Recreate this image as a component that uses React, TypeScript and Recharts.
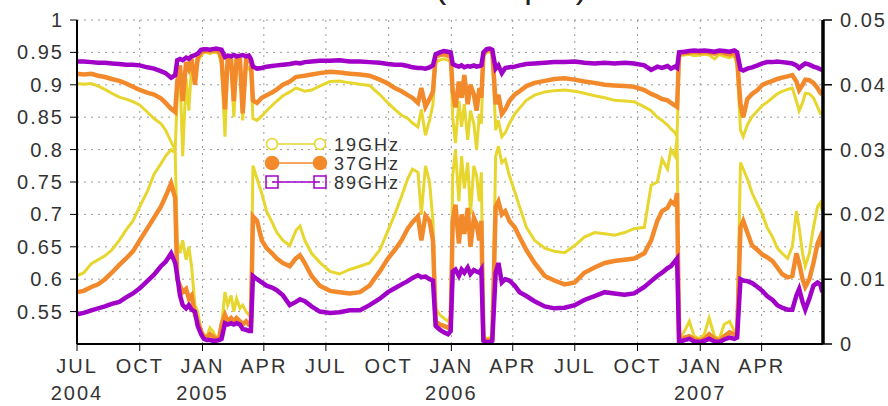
import React from "react";
import { CartesianGrid, Line, LineChart, XAxis, YAxis } from "recharts";

// days counted from 1 Jul 2004
const days = [
  0, 10, 21, 31, 41, 51, 62, 72, 82, 92, 103, 113, 123, 130, 138, 144,
  147, 151, 155, 160, 164, 168, 173, 177, 182, 186, 190, 195, 199, 204, 208, 212, 217, 221, 226, 230, 234, 239, 243, 248, 252, 255,
  258, 264, 271, 278, 286, 293, 302, 312, 321, 327, 334, 344, 356, 371, 385, 400, 415, 429, 444, 456, 466, 476, 485, 492, 500, 505, 511, 517, 522,
  526, 532, 538, 544, 548,
  551, 555, 560, 564, 568, 573, 577, 582, 586, 590, 593,
  596, 601, 605, 609,
  614, 618, 623, 628, 634, 642, 649, 659, 671, 686, 700, 715, 730, 744, 759, 774, 788, 803, 817, 832, 842, 851, 858, 866, 871, 877, 880,
  883, 891, 898, 905, 913, 920, 927, 935, 942, 949, 957, 964, 968, 973,
  977, 983, 990, 998, 1005, 1012, 1020, 1027, 1034, 1042, 1049, 1055, 1059, 1064, 1068, 1074, 1080, 1086, 1090, 1093,
];

const ghz89Upper = [
  0.936, 0.936, 0.935, 0.934, 0.934, 0.933, 0.932, 0.931, 0.931, 0.93, 0.927, 0.925, 0.921, 0.918, 0.911, 0.915,
  0.938, 0.94, 0.938, 0.942, 0.94, 0.944, 0.946, 0.948, 0.954, 0.955, 0.955, 0.954, 0.955, 0.956, 0.955, 0.954, 0.943, 0.945, 0.944, 0.946, 0.944, 0.945, 0.946, 0.944, 0.945, 0.94,
  0.928, 0.925, 0.926, 0.928, 0.929, 0.93, 0.931, 0.932, 0.934, 0.933, 0.935, 0.936, 0.937, 0.937, 0.938, 0.936, 0.936, 0.935, 0.934, 0.932, 0.931, 0.931, 0.929, 0.927, 0.926, 0.926, 0.925, 0.927, 0.93,
  0.947, 0.95, 0.952, 0.951, 0.95,
  0.932, 0.93, 0.928, 0.93, 0.927, 0.929, 0.928, 0.93, 0.928, 0.929, 0.93,
  0.95, 0.955, 0.956, 0.954,
  0.925, 0.93, 0.918, 0.926, 0.927, 0.928, 0.93, 0.932, 0.933, 0.934, 0.935, 0.935, 0.936, 0.934, 0.933, 0.934, 0.933, 0.934, 0.933, 0.93, 0.923, 0.928, 0.926, 0.929, 0.925, 0.928, 0.926,
  0.95, 0.951, 0.952, 0.953, 0.952, 0.953, 0.952, 0.951, 0.953, 0.952, 0.951, 0.953, 0.95, 0.924,
  0.922, 0.925, 0.927, 0.93, 0.933, 0.935, 0.935, 0.936, 0.935, 0.934, 0.933, 0.93, 0.926, 0.93, 0.933, 0.931, 0.928, 0.926, 0.924, 0.923,
];

const ghz37Upper = [
  0.917, 0.916, 0.917, 0.914, 0.912, 0.909, 0.906, 0.902, 0.897, 0.892, 0.888, 0.885, 0.879, 0.872, 0.863, 0.858,
  0.905, 0.93, 0.875, 0.935, 0.925, 0.94, 0.9, 0.942, 0.95, 0.952, 0.953, 0.952, 0.953, 0.953, 0.952, 0.94, 0.862, 0.94, 0.938, 0.875, 0.94, 0.939, 0.856, 0.94, 0.938, 0.935,
  0.876, 0.872, 0.88, 0.884, 0.888, 0.893, 0.9, 0.905, 0.912, 0.913, 0.914, 0.916, 0.918, 0.92, 0.919, 0.917, 0.916, 0.914, 0.908, 0.902, 0.895, 0.89, 0.884, 0.88, 0.872, 0.895, 0.866, 0.878, 0.89,
  0.944, 0.946, 0.947, 0.945, 0.945,
  0.89, 0.865, 0.905, 0.88, 0.915, 0.87, 0.9, 0.885, 0.86, 0.895, 0.88,
  0.948, 0.953, 0.954, 0.952,
  0.87, 0.885, 0.855, 0.862, 0.875, 0.885, 0.89, 0.898, 0.903, 0.906, 0.909, 0.91, 0.908, 0.905, 0.903, 0.9, 0.899, 0.898, 0.897, 0.892, 0.886, 0.882, 0.878, 0.876, 0.872, 0.868, 0.866,
  0.948, 0.949, 0.95, 0.951, 0.95, 0.951, 0.95, 0.948, 0.951, 0.949, 0.947, 0.95, 0.94, 0.87,
  0.85, 0.878, 0.886, 0.892, 0.9, 0.903, 0.906, 0.909, 0.911, 0.913, 0.915, 0.905, 0.892, 0.9, 0.908, 0.907, 0.903, 0.895, 0.888, 0.885,
];

const ghz19Upper = [
  0.902, 0.901, 0.902, 0.898, 0.893, 0.887, 0.881, 0.878, 0.874, 0.869, 0.858, 0.848, 0.84, 0.83, 0.812, 0.8,
  0.88, 0.92, 0.79, 0.91, 0.86, 0.93, 0.925, 0.935, 0.945, 0.95, 0.95, 0.948, 0.95, 0.95, 0.948, 0.93, 0.82, 0.932, 0.93, 0.85, 0.93, 0.928, 0.845, 0.93, 0.925, 0.92,
  0.848, 0.845, 0.852, 0.86, 0.868, 0.875, 0.883, 0.889, 0.895, 0.893, 0.89, 0.892, 0.898, 0.905, 0.906, 0.903, 0.901, 0.899, 0.885, 0.872, 0.862, 0.853, 0.848, 0.841, 0.835, 0.862, 0.822, 0.845, 0.87,
  0.935, 0.938, 0.94, 0.938, 0.935,
  0.85, 0.81, 0.875, 0.835, 0.87, 0.815, 0.86, 0.84, 0.8, 0.855, 0.84,
  0.945, 0.95, 0.951, 0.948,
  0.83, 0.845, 0.82, 0.826, 0.84, 0.855, 0.864, 0.876, 0.884, 0.889, 0.891, 0.892, 0.89, 0.887, 0.883, 0.88, 0.876, 0.875, 0.874, 0.866, 0.86, 0.85, 0.845, 0.838, 0.832, 0.826, 0.82,
  0.945, 0.946, 0.947, 0.945, 0.946, 0.947, 0.946, 0.94, 0.947, 0.944, 0.942, 0.945, 0.93, 0.83,
  0.82, 0.838, 0.851, 0.86, 0.868, 0.873, 0.88, 0.886, 0.89, 0.893, 0.895, 0.875, 0.86, 0.872, 0.887, 0.886, 0.88, 0.866, 0.856, 0.854,
];

const ghz19Lower = [
  0.605, 0.61, 0.624, 0.63, 0.636, 0.645, 0.66, 0.676, 0.69, 0.712, 0.735, 0.762, 0.778, 0.79, 0.8, 0.795,
  0.66, 0.64, 0.66, 0.63, 0.65, 0.62, 0.56, 0.55, 0.52, 0.515, 0.51, 0.525, 0.52, 0.51, 0.508, 0.53, 0.58, 0.56, 0.575, 0.55, 0.57, 0.555, 0.56, 0.55, 0.545, 0.55,
  0.775, 0.755, 0.732, 0.705, 0.688, 0.672, 0.66, 0.652, 0.675, 0.682, 0.66, 0.64, 0.626, 0.612, 0.608, 0.615, 0.62, 0.625, 0.645, 0.675, 0.7, 0.728, 0.755, 0.77, 0.765, 0.7, 0.775, 0.75, 0.69,
  0.555, 0.545, 0.54, 0.535, 0.545,
  0.76, 0.8, 0.72, 0.79, 0.74, 0.78, 0.7, 0.775, 0.76, 0.72, 0.765,
  0.512, 0.508, 0.51, 0.512,
  0.79, 0.805, 0.78, 0.785, 0.76, 0.735, 0.712, 0.68, 0.66, 0.648, 0.643, 0.641, 0.652, 0.665, 0.672, 0.67, 0.668, 0.672, 0.678, 0.68, 0.745, 0.75, 0.785, 0.77, 0.8, 0.79, 0.818,
  0.508, 0.52, 0.535, 0.512, 0.508, 0.515, 0.54, 0.512, 0.508, 0.53, 0.535, 0.52, 0.52, 0.78,
  0.77, 0.755, 0.733, 0.715, 0.7, 0.68, 0.665, 0.648, 0.64, 0.632, 0.65, 0.705, 0.68, 0.64, 0.62, 0.64, 0.68, 0.712, 0.718, 0.705,
];

const ghz37Lower = [
  0.58, 0.582, 0.588, 0.592, 0.6, 0.61, 0.622, 0.632, 0.643, 0.66, 0.678, 0.695, 0.712, 0.728, 0.748, 0.725,
  0.6, 0.59, 0.58, 0.585, 0.57, 0.575, 0.545, 0.535, 0.52, 0.51, 0.51, 0.515, 0.512, 0.508, 0.507, 0.53, 0.545, 0.535, 0.54, 0.535, 0.54, 0.535, 0.53, 0.535, 0.53, 0.53,
  0.697, 0.69, 0.66, 0.648, 0.64, 0.632, 0.625, 0.62, 0.632, 0.637, 0.625, 0.605, 0.59, 0.582, 0.58, 0.578, 0.58, 0.59, 0.612, 0.632, 0.645, 0.66, 0.678, 0.688, 0.697, 0.66, 0.698, 0.69, 0.66,
  0.535, 0.53, 0.528, 0.525, 0.53,
  0.69, 0.715, 0.655, 0.7, 0.67, 0.71, 0.65, 0.695, 0.685, 0.66, 0.69,
  0.508, 0.505, 0.506, 0.508,
  0.712, 0.72, 0.7, 0.705, 0.69, 0.68, 0.665, 0.645, 0.625, 0.605, 0.598, 0.592, 0.595, 0.61, 0.618, 0.625, 0.628, 0.63, 0.632, 0.64, 0.66, 0.69, 0.705, 0.71, 0.72, 0.715, 0.733,
  0.505, 0.51, 0.512, 0.507, 0.505, 0.508, 0.515, 0.508, 0.505, 0.512, 0.518, 0.515, 0.515, 0.68,
  0.69, 0.672, 0.652, 0.645, 0.638, 0.634, 0.628, 0.618, 0.608, 0.603, 0.605, 0.64, 0.625, 0.6, 0.588, 0.6, 0.625, 0.655, 0.665, 0.65,
];

const ghz89Lower = [
  0.546, 0.548, 0.552, 0.555, 0.558, 0.562, 0.565, 0.572, 0.578, 0.586, 0.597, 0.607, 0.62, 0.627, 0.64, 0.625,
  0.605, 0.575, 0.56, 0.555, 0.56, 0.553, 0.55, 0.528, 0.515, 0.508, 0.506, 0.506, 0.505, 0.505, 0.506, 0.508, 0.532, 0.53, 0.532, 0.53, 0.532, 0.53, 0.523, 0.522, 0.52, 0.52,
  0.605, 0.6, 0.595, 0.59, 0.587, 0.583, 0.575, 0.56, 0.565, 0.569, 0.566, 0.558, 0.55, 0.548, 0.549, 0.552, 0.552, 0.56, 0.57, 0.58, 0.586, 0.592, 0.597, 0.602, 0.606, 0.603, 0.604, 0.6, 0.598,
  0.528, 0.522, 0.518, 0.515, 0.52,
  0.612, 0.615, 0.605, 0.615, 0.61, 0.618, 0.608, 0.614, 0.612, 0.61, 0.615,
  0.505, 0.503, 0.503, 0.505,
  0.61, 0.625, 0.595, 0.6, 0.598, 0.59, 0.58, 0.574, 0.566, 0.558, 0.555, 0.556, 0.56, 0.568, 0.574, 0.58, 0.578, 0.576, 0.578, 0.588, 0.597, 0.605, 0.61, 0.617, 0.62, 0.628, 0.632,
  0.503, 0.506, 0.508, 0.504, 0.503, 0.505, 0.508, 0.504, 0.503, 0.507, 0.51, 0.508, 0.51, 0.6,
  0.598, 0.597, 0.594, 0.588, 0.582, 0.574, 0.568, 0.56, 0.556, 0.553, 0.553, 0.575, 0.585, 0.565, 0.553, 0.57, 0.59, 0.595, 0.592, 0.58,
];

const quarterDays = [0, 92, 184, 274, 365, 457, 549, 639, 730, 822, 914, 1004];
const quarterMonths = ["JUL", "OCT", "JAN", "APR", "JUL", "OCT", "JAN", "APR", "JUL", "OCT", "JAN", "APR"];
const quarterYears = ["2004", "", "2005", "", "", "", "2006", "", "", "", "2007", ""];
const monthDays = [
  0, 31, 62, 92, 123, 153, 184, 215, 243, 274, 304, 335, 365, 396, 427, 457, 488, 518,
  549, 580, 608, 639, 669, 700, 730, 761, 792, 822, 853, 883, 914, 945, 973, 1004, 1034, 1065,
];
const leftTicks = [0.55, 0.6, 0.65, 0.7, 0.75, 0.8, 0.85, 0.9, 0.95, 1];
const leftLabels = ["0.55", "0.6", "0.65", "0.7", "0.75", "0.8", "0.85", "0.9", "0.95", "1"];
const rightTicks = [0, 0.01, 0.02, 0.03, 0.04, 0.05];
const rightLabels = ["0", "0.01", "0.02", "0.03", "0.04", "0.05"];
const legendNames = ["19GHz", "37GHz", "89GHz"];

const YELLOW = "#e6d62e";
const ORANGE = "#f28a2c";
const PURPLE = "#a100c8";

const data = days.map((day, i) => ({
  day,
  y19: ghz19Upper[i],
  y19b: ghz19Lower[i],
  y37: ghz37Upper[i],
  y37b: ghz37Lower[i],
  y89: ghz89Upper[i],
  y89b: ghz89Lower[i],
}));

const labelStyle = {
  fontFamily: "'Liberation Sans', Arial, sans-serif",
  fontSize: 20,
  letterSpacing: 2,
  fill: "#333",
};

function MonthTick({ x, y, payload }: any) {
  const i = quarterDays.indexOf(payload.value);
  return (
    <g>
      <text x={x} y={y + 20} textAnchor="middle" style={labelStyle}>
        {quarterMonths[i]}
      </text>
      {quarterYears[i] ? (
        <text x={x} y={y + 47} textAnchor="middle" style={labelStyle}>
          {quarterYears[i]}
        </text>
      ) : null}
    </g>
  );
}

function LeftTick({ x, y, payload }: any) {
  const i = leftTicks.indexOf(payload.value);
  return (
    <text x={x} y={y + 7} textAnchor="end" style={labelStyle}>
      {leftLabels[i]}
    </text>
  );
}

function RightTick({ x, y, payload }: any) {
  const i = rightTicks.indexOf(payload.value);
  return (
    <text x={x} y={y + 7} textAnchor="start" style={labelStyle}>
      {rightLabels[i]}
    </text>
  );
}

function LegendBox() {
  const rows = [
    { color: YELLOW, y: 144, marker: "open" },
    { color: ORANGE, y: 163, marker: "dot" },
    { color: PURPLE, y: 182, marker: "square" },
  ];
  return (
    <svg width={888} height={406} style={{ position: "absolute", left: 0, top: 0, pointerEvents: "none" }}>
      {/* title sits above the page, only its descenders show */}
      <text x={512} y={-2} textAnchor="middle" style={{ ...labelStyle, fontSize: 34, fill: "#222" }}>
        (Sample)
      </text>
      {rows.map((r, i) => (
        <g key={legendNames[i]}>
          <line x1={272} x2={320} y1={r.y} y2={r.y} stroke={r.color} strokeWidth={1.5} />
          {[272, 320].map((cx) =>
            r.marker === "square" ? (
              <rect key={cx} x={cx - 6} y={r.y - 6} width={12} height={12} fill="none" stroke={r.color} strokeWidth={1.5} />
            ) : (
              <circle
                key={cx}
                cx={cx}
                cy={r.y}
                r={r.marker === "dot" ? 6.5 : 5.5}
                fill={r.marker === "dot" ? r.color : "white"}
                stroke={r.color}
                strokeWidth={1.5}
              />
            )
          )}
          <text x={334} y={r.y + 7} style={{ ...labelStyle, fontSize: 18 }}>
            {legendNames[i]}
          </text>
        </g>
      ))}
    </svg>
  );
}

export default function App() {
  return (
    <div style={{ position: "relative", width: 888, height: 406, background: "white" }}>
      <style>{"body{margin:0}"}</style>
      <LineChart width={888} height={406} data={data} margin={{ top: 20, right: 0, bottom: 0, left: 0 }}>
        <CartesianGrid xAxisId="main" yAxisId="left" stroke="#9a9a9a" strokeDasharray="2 5" />
        <XAxis
          xAxisId="top"
          orientation="top"
          dataKey="day"
          type="number"
          domain={[0, 1094]}
          ticks={monthDays}
          height={0}
          tick={false}
          tickSize={3}
          mirror
          axisLine={{ stroke: "#000", strokeWidth: 2 }}
          tickLine={{ stroke: "#000" }}
        />
        <XAxis
          xAxisId="minor"
          dataKey="day"
          type="number"
          domain={[0, 1094]}
          ticks={monthDays}
          height={0}
          tick={false}
          tickSize={3}
          mirror
          axisLine={false}
          tickLine={{ stroke: "#000" }}
        />
        <XAxis
          xAxisId="main"
          dataKey="day"
          type="number"
          domain={[0, 1094]}
          ticks={quarterDays}
          interval={0}
          height={62}
          tickSize={7}
          tickMargin={2}
          tick={<MonthTick />}
          axisLine={{ stroke: "#000", strokeWidth: 2 }}
          tickLine={{ stroke: "#000" }}
        />
        <YAxis
          yAxisId="left"
          type="number"
          domain={[0.5, 1]}
          ticks={leftTicks}
          interval={0}
          width={77}
          tickSize={7}
          tickMargin={6}
          tick={<LeftTick />}
          axisLine={{ stroke: "#000", strokeWidth: 2 }}
          tickLine={{ stroke: "#000" }}
        />
        <YAxis
          yAxisId="right"
          orientation="right"
          type="number"
          domain={[0, 0.05]}
          allowDataOverflow
          ticks={rightTicks}
          interval={0}
          width={65}
          tickSize={9}
          tickMargin={8}
          tick={<RightTick />}
          axisLine={{ stroke: "#000", strokeWidth: 3.5 }}
          tickLine={{ stroke: "#000", strokeWidth: 1.5 }}
        />
        <Line xAxisId="main" yAxisId="left" dataKey="y19b" stroke={YELLOW} strokeWidth={3} dot={false} isAnimationActive={false} />
        <Line xAxisId="main" yAxisId="left" dataKey="y19" stroke={YELLOW} strokeWidth={3} dot={false} isAnimationActive={false} />
        <Line xAxisId="main" yAxisId="left" dataKey="y37b" stroke={ORANGE} strokeWidth={4.5} dot={false} isAnimationActive={false} />
        <Line xAxisId="main" yAxisId="left" dataKey="y37" stroke={ORANGE} strokeWidth={4.5} dot={false} isAnimationActive={false} />
        <Line xAxisId="main" yAxisId="left" dataKey="y89b" stroke={PURPLE} strokeWidth={4.5} dot={false} isAnimationActive={false} />
        <Line xAxisId="main" yAxisId="left" dataKey="y89" stroke={PURPLE} strokeWidth={4.5} dot={false} isAnimationActive={false} />
      </LineChart>
      <LegendBox />
    </div>
  );
}
